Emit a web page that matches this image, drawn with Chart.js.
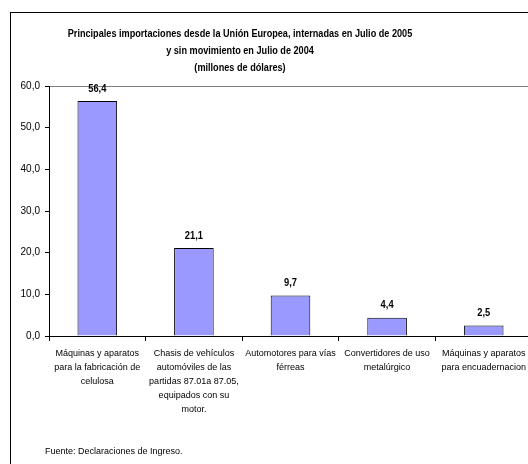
<!DOCTYPE html>
<html>
<head>
<meta charset="utf-8">
<script src="https://cdn.jsdelivr.net/npm/chart.js@4"></script>
<style>
html,body{margin:0;padding:0;overflow:hidden;background:#fff;}
#wrap{position:absolute;left:0;top:0;width:560px;height:464px;}
</style>
</head>
<body>
<div id="wrap"><canvas id="c" width="560" height="464"></canvas></div>
<script>
const categories = [
  ["Máquinas y aparatos","para la fabricación de","celulosa"],
  ["Chasis de vehículos","automóviles de las","partidas 87.01a 87.05,","equipados con su","motor."],
  ["Automotores para vías","férreas"],
  ["Convertidores de uso","metalúrgico"],
  ["Máquinas y aparatos","para encuadernacion"]
];
const values = [56.4, 21.1, 9.7, 4.4, 2.5];
const titleLines = [
  "Principales importaciones desde la Unión Europea, internadas en Julio de 2005",
  "y sin movimiento en Julio de 2004",
  "(millones de dólares)"
];
const sourceNote = "Fuente: Declaraciones de Ingreso.";
const yMin = 0, yMax = 60, yStep = 10;

const FONT = "'Liberation Sans',Arial,sans-serif";
const fmt = v => v.toFixed(1).replace('.', ',');

function condensedText(ctx, text, x, y, sx) {
  ctx.save();
  ctx.translate(x, y);
  ctx.scale(sx, 1);
  ctx.fillText(text, 0, 0);
  ctx.restore();
}

const decor = {
  id: 'decor',
  beforeDraw(chart) {
    const ctx = chart.ctx, a = chart.chartArea;
    ctx.save();
    ctx.fillStyle = '#fff';
    ctx.fillRect(0, 0, chart.width, chart.height);
    ctx.strokeStyle = '#000';
    ctx.lineWidth = 1;
    ctx.strokeRect(10.5, 12.5, 700, 700);
    ctx.strokeStyle = '#808080';
    ctx.strokeRect(a.left + 0.5, a.top + 0.5, a.right - a.left, a.bottom - a.top);
    ctx.restore();
  },
  afterDraw(chart) {
    const ctx = chart.ctx;
    ctx.save();
    ctx.fillStyle = '#000';
    ctx.textAlign = 'center';
    ctx.textBaseline = 'middle';
    ctx.font = "bold 11px " + FONT;
    const ys = [34, 51, 68];
    titleLines.forEach((t, i) => condensedText(ctx, t, 240, ys[i], 0.83));
    const meta = chart.getDatasetMeta(0);
    ctx.textBaseline = 'bottom';
    meta.data.forEach((bar, i) => {
      condensedText(ctx, fmt(values[i]), bar.x, bar.y - 7, 0.85);
    });
    ctx.textAlign = 'left';
    ctx.textBaseline = 'middle';
    ctx.font = "9px " + FONT;
    ctx.fillText(sourceNote, 45, 452);
    ctx.restore();
  }
};

new Chart(document.getElementById('c'), {
  type: 'bar',
  data: {
    labels: categories,
    datasets: [{
      data: values,
      backgroundColor: '#9999FF',
      borderColor: '#000',
      borderWidth: 1,
      barPercentage: 0.41,
      categoryPercentage: 1.0
    }]
  },
  options: {
    responsive: false,
    animation: false,
    devicePixelRatio: 1,
    layout: { padding: { left: 0, top: 86, right: 28, bottom: 0 } },
    plugins: { legend: { display: false }, tooltip: { enabled: false } },
    scales: {
      x: {
        offset: true,
        grid: { offset: true, drawOnChartArea: false, drawTicks: true, tickLength: 5, color: '#000' },
        border: { color: '#000', width: 1 },
        ticks: {
          color: '#000', maxRotation: 0, minRotation: 0, autoSkip: false, padding: 6,
          font: { family: FONT, size: 9, lineHeight: '14px' }
        },
        afterFit(s) { s.height = 128; }
      },
      y: {
        min: yMin, max: yMax,
        grid: { drawOnChartArea: false, drawTicks: true, tickLength: 4, color: '#000' },
        border: { color: '#000', width: 1 },
        ticks: {
          stepSize: yStep, color: '#000', padding: 5,
          font: { family: FONT, size: 10 },
          callback: v => fmt(v)
        },
        afterFit(s) { s.width = 49; }
      }
    }
  },
  plugins: [decor]
});
</script>
</body>
</html>
